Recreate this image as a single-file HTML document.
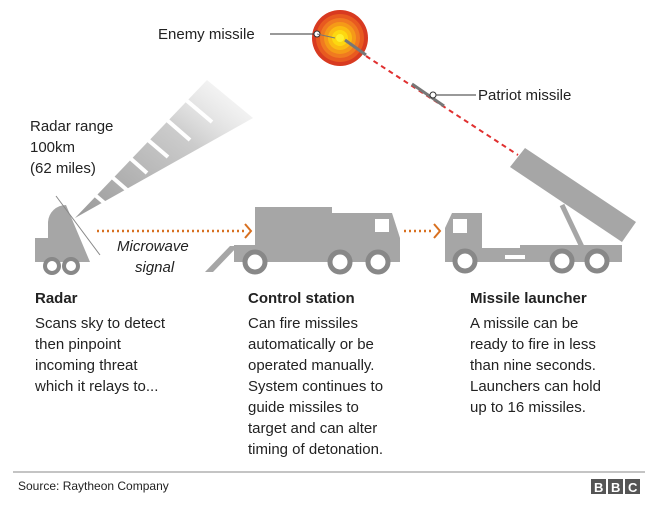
<!DOCTYPE html>
<html><head><style>
body{margin:0;background:#fff;}
svg text{font-family:"Liberation Sans",Arial,sans-serif;fill:#222;}
</style></head><body>
<svg width="660" height="506" viewBox="0 0 660 506" xmlns="http://www.w3.org/2000/svg">
<defs>
<linearGradient id="beam" x1="0" y1="1" x2="1" y2="0">
<stop offset="0" stop-color="#999"/><stop offset="0.6" stop-color="#ccc"/><stop offset="1" stop-color="#f4f4f4" stop-opacity="0.3"/>
</linearGradient>
</defs>
<!-- explosion -->
<circle cx="340" cy="38" r="28" fill="#d83a20"/>
<circle cx="340" cy="38" r="24" fill="#e85a20"/>
<circle cx="340" cy="38" r="20" fill="#f07a20"/>
<circle cx="340" cy="38" r="16" fill="#f59a18"/>
<circle cx="340" cy="38" r="12" fill="#fbbb12"/>
<circle cx="340" cy="38" r="8" fill="#fdd810"/>
<circle cx="340" cy="38" r="4" fill="#fff030"/>
<text x="158" y="39" font-size="15">Enemy missile</text>
<line x1="270" y1="34" x2="314" y2="34" stroke="#333" stroke-width="1"/>
<circle cx="317" cy="34" r="3" fill="#fff" stroke="#333"/>
<line x1="317" y1="34" x2="335" y2="38" stroke="#777" stroke-width="1"/>
<!-- dashed trajectory -->
<line x1="366" y1="56" x2="518" y2="155" stroke="#e03030" stroke-width="2" stroke-dasharray="5,4"/>
<line x1="345" y1="40" x2="366" y2="55" stroke="#777" stroke-width="3"/>
<line x1="412" y1="84" x2="444" y2="106" stroke="#777" stroke-width="3"/>
<circle cx="433" cy="95" r="3" fill="#fff" stroke="#333"/>
<line x1="436" y1="95" x2="476" y2="95" stroke="#333"/>
<text x="478" y="100" font-size="15">Patriot missile</text>
<!-- radar beam -->
<polygon points="75,218 207,80 253,118" fill="url(#beam)"/>
<g stroke="#fff" stroke-width="4">
<line x1="95" y1="195" x2="108" y2="206"/><line x1="112" y1="177" x2="127" y2="190"/><line x1="130" y1="158" x2="147" y2="173"/><line x1="148" y1="140" x2="168" y2="157"/><line x1="167" y1="120" x2="190" y2="140"/><line x1="186" y1="100" x2="212" y2="122"/>
</g>
<text x="30" y="131" font-size="15">Radar range</text>
<text x="30" y="152" font-size="15">100km</text>
<text x="30" y="173" font-size="15">(62 miles)</text>
<!-- radar vehicle -->
<path d="M35,238 H48 V222 A18,18 0 0 1 66,205 L90,262 H35 Z" fill="#a6a6a6"/>
<line x1="56" y1="196" x2="100" y2="255" stroke="#888" stroke-width="1"/>
<circle cx="52" cy="266" r="7" fill="#fff" stroke="#888" stroke-width="4"/>
<circle cx="71" cy="266" r="7" fill="#fff" stroke="#888" stroke-width="4"/>
<!-- orange arrows -->
<line x1="97" y1="231" x2="244" y2="231" stroke="#d87020" stroke-width="2.5" stroke-dasharray="2,3"/>
<polyline points="245,224 251,231 245,238" fill="none" stroke="#d87020" stroke-width="2"/>
<line x1="404" y1="231" x2="434" y2="231" stroke="#d87020" stroke-width="2.5" stroke-dasharray="2,3"/>
<polyline points="434,224 440,231 434,238" fill="none" stroke="#d87020" stroke-width="2"/>
<text x="117" y="251" font-size="15" font-style="italic">Microwave</text>
<text x="135" y="272" font-size="15" font-style="italic">signal</text>
<!-- control truck -->
<polygon points="205,272 213,272 238,246 230,246" fill="#a6a6a6"/>
<rect x="255" y="207" width="77" height="45" fill="#a6a6a6"/>
<rect x="234" y="245" width="110" height="17" fill="#a6a6a6"/>
<path d="M330,213 H392 L400,238 V262 H330 Z" fill="#a6a6a6"/>
<rect x="375" y="219" width="14" height="13" fill="#fff"/>
<g fill="#fff" stroke="#888" stroke-width="5">
<circle cx="255" cy="262" r="10"/><circle cx="340" cy="262" r="10"/><circle cx="378" cy="262" r="10"/>
</g>
<!-- launcher -->
<path d="M452,213 H482 V248 H520 V245 H622 V262 H445 V228 Z" fill="#a6a6a6"/>
<rect x="453" y="219" width="14" height="14" fill="#fff"/>
<rect x="505" y="255" width="20" height="4" fill="#fff"/>
<polygon points="525,148 636,222 622,242 510,167" fill="#a6a6a6"/>
<line x1="562" y1="205" x2="582" y2="247" stroke="#a6a6a6" stroke-width="5"/>
<g fill="#fff" stroke="#888" stroke-width="5">
<circle cx="465" cy="261" r="10"/><circle cx="562" cy="261" r="10"/><circle cx="597" cy="261" r="10"/>
</g>
<!-- text -->
<g font-size="15" font-weight="bold">
<text x="35" y="303">Radar</text>
<text x="248" y="303">Control station</text>
<text x="470" y="303">Missile launcher</text>
</g>
<g font-size="15">
<text x="35" y="328">Scans sky to detect</text>
<text x="35" y="349">then pinpoint</text>
<text x="35" y="370">incoming threat</text>
<text x="35" y="391">which it relays to...</text>
<text x="248" y="328">Can fire missiles</text>
<text x="248" y="349">automatically or be</text>
<text x="248" y="370">operated manually.</text>
<text x="248" y="391">System continues to</text>
<text x="248" y="412">guide missiles to</text>
<text x="248" y="433">target and can alter</text>
<text x="248" y="454">timing of detonation.</text>
<text x="470" y="328">A missile can be</text>
<text x="470" y="349">ready to fire in less</text>
<text x="470" y="370">than nine seconds.</text>
<text x="470" y="391">Launchers can hold</text>
<text x="470" y="412">up to 16 missiles.</text>
</g>
<line x1="13" y1="472" x2="645" y2="472" stroke="#888" stroke-width="1"/>
<text x="18" y="490" font-size="12">Source: Raytheon Company</text>
<g fill="#555"><rect x="591" y="479" width="15" height="15"/><rect x="608" y="479" width="15" height="15"/><rect x="625" y="479" width="15" height="15"/></g>
<g font-size="13" font-weight="bold">
<text x="594" y="492" style="fill:#fff">B</text><text x="611" y="492" style="fill:#fff">B</text><text x="628" y="492" style="fill:#fff">C</text>
</g>
</svg>
</body></html>
